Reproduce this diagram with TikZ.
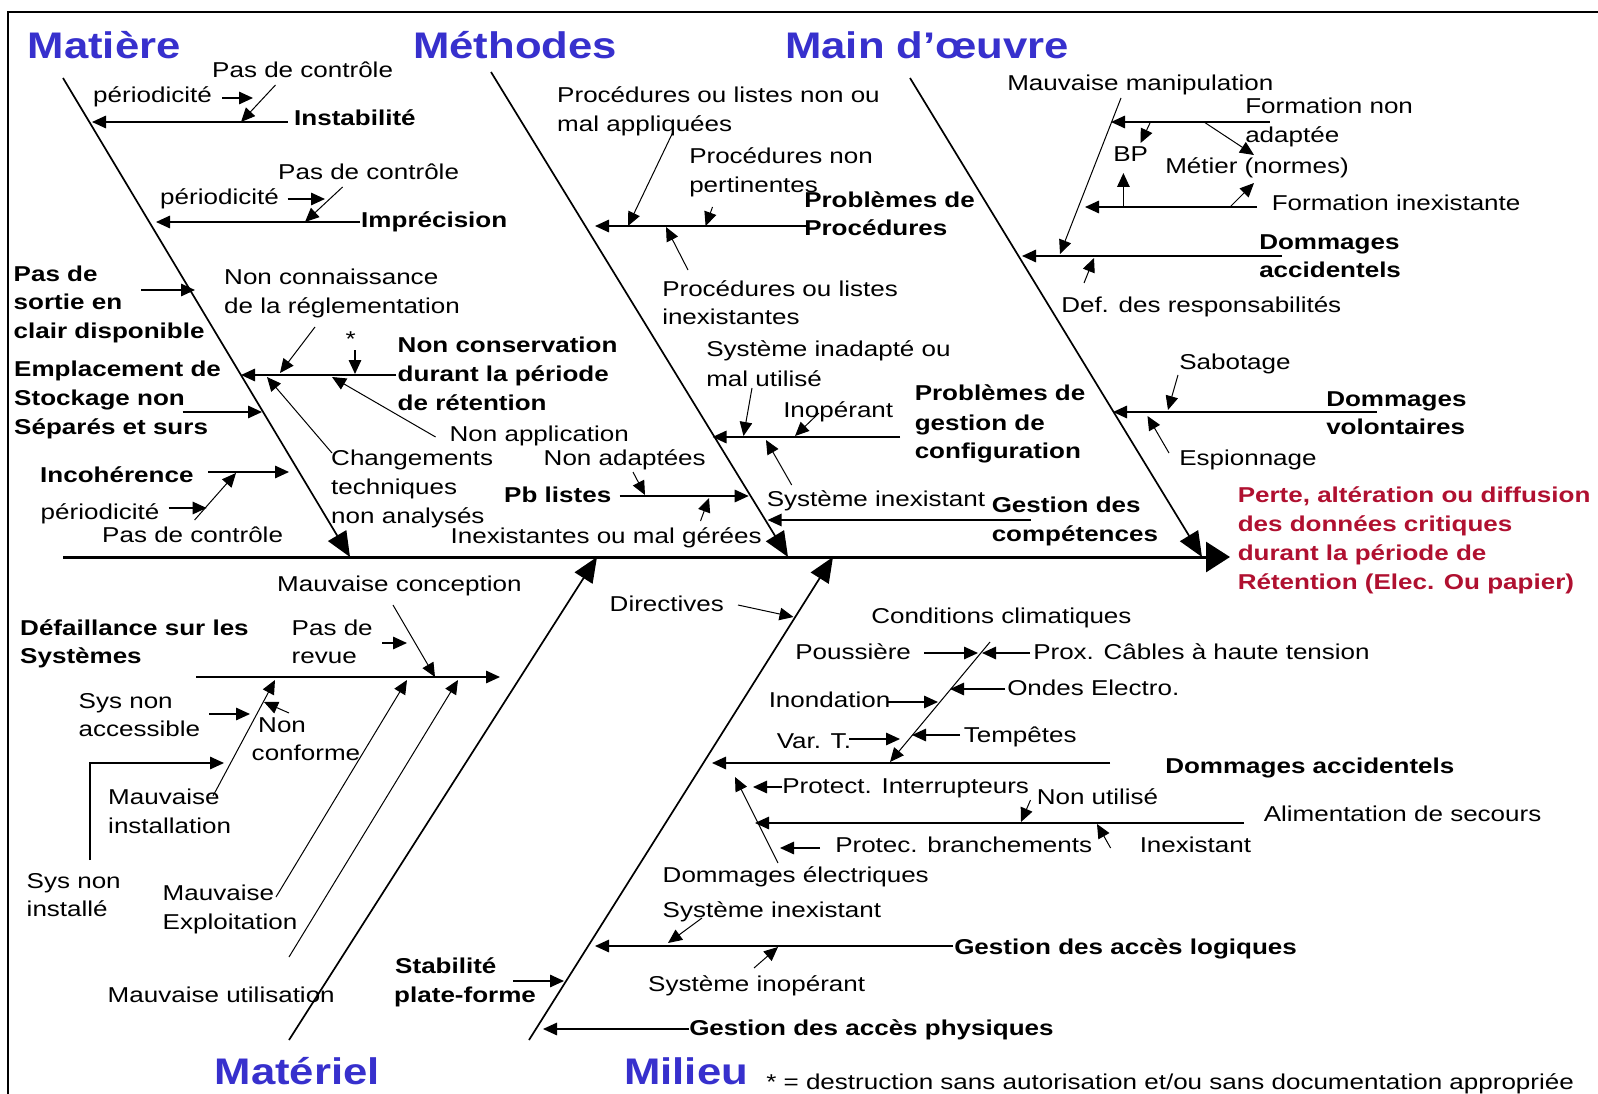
\documentclass[tikz,border=0pt]{standalone}
\usepackage{fontspec}
\setmainfont{Liberation Sans}
\usetikzlibrary{arrows.meta}
\definecolor{ttlblue}{RGB}{55,48,205}
\definecolor{effred}{RGB}{176,16,48}
\newcommand{\frg}{\fontsize{21.5}{26}\selectfont}
\newcommand{\fbd}{\fontsize{21.5}{26}\selectfont\bfseries}
\newcommand{\fttl}{\fontsize{37}{42}\selectfont\bfseries}
\newcommand{\conn}[4]{\coordinate (#1s) at #3;\coordinate (#1e) at #4;\draw[#2] (#1s) -- (#1e);}
\begin{document}
\begin{tikzpicture}[x=1pt,y=-1pt,
  tx/.style={font=\frg, inner sep=0pt, anchor=base west, xscale=1.21},
  bx/.style={tx, font=\fbd},
  rx/.style={bx, text=effred},
  titl/.style={font=\fttl, text=ttlblue, inner sep=0pt, anchor=base west, xscale=1.18},
  ln/.style={line width=1.5pt},
  arr/.style={ln, -{Triangle[length=14pt,width=12.5pt]}},
  thn/.style={line width=1pt, -{Triangle[length=14pt,width=12.5pt]}},
  bone/.style={line width=1.7pt, -{Triangle[length=25pt,width=21pt]}},
  spine/.style={line width=3pt, -{Triangle[length=24pt,width=30pt]}}]
\useasboundingbox (0,0) rectangle (1598,1094);
\fill[white] (0,0) rectangle (1598,1094);
% frame
\coordinate (fr1) at (8,1094); \coordinate (fr2) at (8,12); \coordinate (fr3) at (1598,12);
\draw[line width=2pt] (fr1) -- (fr2) -- (fr3);

% titles
\node[titl] (tmat) at (27.5,58.5) {Matière};
\node[titl] (tmet) at (413,58.5) {Méthodes};
\node[titl] (tmo) at (785,58.5) {Main d’œuvre};
\node[titl] (tmtl) at (214.5,1084) {Matériel};
\node[titl] (tmil) at (624,1084) {Milieu};
\node[tx] (foot) at (766,1089) {* = destruction sans autorisation et/ou sans documentation appropriée};

% spine and bones
\conn{spn}{spine}{(63,557)}{(1230,557)}
\conn{bA}{bone}{(63,78)}{(350,557)}
\conn{bB}{bone}{(491,72)}{(788,557)}
\conn{bC}{bone}{(910,78)}{(1202,557)}
\conn{bD}{bone}{(289,1040)}{(597,557)}
\conn{bE}{bone}{(529,1040)}{(833,557)}

% ---------------- Matiere
\node[tx] (m1a) at (212,78) {Pas de contrôle};
\node[tx] (m1b) at (93,103) {périodicité};
\node[bx] (m1c) at (294,126) {Instabilité};
\node[tx] (m2a) at (278,180) {Pas de contrôle};
\node[tx] (m2b) at (160,205) {périodicité};
\node[bx] (m2c) at (361,228) {Imprécision};
\node[bx] (m3a) at (13.5,281) {Pas de};
\node[bx] (m3b) at (13.5,309.5) {sortie en};
\node[bx] (m3c) at (13.5,338.5) {clair disponible};
\node[tx] (m4a) at (224,284.5) {Non connaissance};
\node[tx] (m4b) at (224,313.5) {de la réglementation};
\node[tx] (m4c) at (345.5,346) {*};
\node[bx] (m5a) at (397.5,352.5) {Non conservation};
\node[bx] (m5b) at (397.5,381.5) {durant la période};
\node[bx] (m5c) at (397.5,410) {de rétention};
\node[tx] (m6) at (449.4,441) {Non application};
\node[tx] (m7a) at (331,465.5) {Changements};
\node[tx] (m7b) at (331,494.5) {techniques};
\node[tx] (m7c) at (331,523) {non analysés};
\node[bx] (m8a) at (14,376) {Emplacement de};
\node[bx] (m8b) at (14,405.5) {Stockage non};
\node[bx] (m8c) at (14,434.5) {Séparés et surs};
\node[bx] (m9a) at (40,482) {Incohérence};
\node[tx] (m9b) at (40.5,519.5) {périodicité};
\node[tx] (m9c) at (102,542.5) {Pas de contrôle};

\conn{cm1}{arr}{(287.5,122)}{(92,122)}
\conn{cm2}{arr}{(222,98)}{(253,98)}
\conn{cm3}{thn}{(275.5,85)}{(241,122)}
\conn{cm4}{arr}{(360,222)}{(156,222)}
\conn{cm5}{arr}{(287.5,199)}{(325,199)}
\conn{cm6}{thn}{(342.6,187)}{(305,222)}
\conn{cm7}{arr}{(141,290)}{(195,290)}
\conn{cm8}{thn}{(315,327)}{(280,373)}
\conn{cm9}{arr}{(355,350)}{(355,374)}
\conn{cm10}{arr}{(396,375)}{(241,375)}
\conn{cm11}{thn}{(435.6,437)}{(332,377)}
\conn{cm12}{thn}{(332,453)}{(267,377)}
\conn{cm13}{arr}{(182.5,412)}{(262,412)}
\conn{cm14}{arr}{(208,472)}{(289,472)}
\conn{cm15}{arr}{(168.7,508)}{(206.6,508)}
\conn{cm16}{thn}{(194.6,520)}{(236,473)}

% ---------------- Methodes
\node[tx] (e1a) at (557,103) {Procédures ou listes non ou};
\node[tx] (e1b) at (557,132) {mal appliquées};
\node[tx] (e2a) at (689,163.5) {Procédures non};
\node[tx] (e2b) at (689,192.5) {pertinentes};
\node[bx] (e3a) at (804,207.5) {Problèmes de};
\node[bx] (e3b) at (804,235.5) {Procédures};
\node[tx] (e4a) at (662,296) {Procédures ou listes};
\node[tx] (e4b) at (662,324.5) {inexistantes};
\node[tx] (e5a) at (706,356) {Système inadapté ou};
\node[tx] (e5b) at (706,386) {mal utilisé};
\node[tx] (e6) at (783,417.5) {Inopérant};
\node[bx] (e7a) at (914.5,400.5) {Problèmes de};
\node[bx] (e7b) at (914.5,430) {gestion de};
\node[bx] (e7c) at (914.5,458) {configuration};
\node[tx] (e8) at (543.5,465.5) {Non adaptées};
\node[bx] (e9) at (504,502.5) {Pb listes};
\node[tx] (e10) at (766.5,506) {Système inexistant};
\node[bx] (e11a) at (991.5,512.5) {Gestion des};
\node[bx] (e11b) at (991.5,541.5) {compétences};
\node[tx] (e12) at (450.5,543) {Inexistantes ou mal gérées};

\conn{ce1}{arr}{(805.5,226)}{(595,226)}
\conn{ce2}{thn}{(673,132)}{(628,226)}
\conn{ce3}{thn}{(712.5,207)}{(705.6,226)}
\conn{ce4}{thn}{(688,270)}{(666,227)}
\conn{ce5}{arr}{(900,437)}{(712.5,437)}
\conn{ce6}{thn}{(752,388)}{(743.5,436)}
\conn{ce7}{thn}{(819,413)}{(795,436)}
\conn{ce8}{thn}{(791.7,485)}{(766,440)}
\conn{ce9}{arr}{(1031,520)}{(767.6,520)}
\conn{ce10}{arr}{(619.5,496)}{(748.7,496)}
\conn{ce11}{thn}{(633,472)}{(645,495)}
\conn{ce12}{thn}{(700.5,521)}{(709,498)}

% ---------------- Main d'oeuvre
\node[tx] (o1) at (1007,90.5) {Mauvaise manipulation};
\node[tx] (o2a) at (1245,114) {Formation non};
\node[tx] (o2b) at (1245,143) {adaptée};
\node[tx] (o3) at (1113,162) {BP};
\node[tx] (o4) at (1165,174) {Métier (normes)};
\node[tx] (o5) at (1271.5,211) {Formation inexistante};
\node[bx] (o6a) at (1259,249) {Dommages};
\node[bx] (o6b) at (1259,277) {accidentels};
\node[tx] (o7) at (1061,312.5) {Def. des responsabilités};
\node[tx] (o8) at (1179,369) {Sabotage};
\node[bx] (o9a) at (1326,406.5) {Dommages};
\node[bx] (o9b) at (1326,434) {volontaires};
\node[tx] (o10) at (1179,465.5) {Espionnage};
\node[rx] (r1) at (1237.5,502.5) {Perte, altération ou diffusion};
\node[rx] (r2) at (1237.5,531) {des données critiques};
\node[rx] (r3) at (1237.5,560.5) {durant la période de};
\node[rx] (r4) at (1237.5,589) {Rétention (Elec. Ou papier)};

\conn{co1}{arr}{(1282,256)}{(1022,256)}
\conn{co2}{thn}{(1121,98)}{(1060,254)}
\conn{co3}{thn}{(1084,283)}{(1094,258)}
\conn{co4}{arr}{(1270,122)}{(1111,122)}
\conn{co5}{thn}{(1150,123)}{(1140.6,143)}
\conn{co6}{thn}{(1204,122)}{(1254,155)}
\conn{co7}{arr}{(1257,207)}{(1085,207)}
\conn{co8}{arr}{(1123.4,207)}{(1123.4,173)}
\conn{co9}{thn}{(1230,207)}{(1254,183)}
\conn{co10}{arr}{(1376.5,412)}{(1113,412)}
\conn{co11}{thn}{(1178,375)}{(1168,410)}
\conn{co12}{thn}{(1169,453)}{(1147.5,416)}

% ---------------- Materiel
\node[tx] (a1) at (277,591) {Mauvaise conception};
\node[bx] (a2a) at (20,635) {Défaillance sur les};
\node[bx] (a2b) at (20,663) {Systèmes};
\node[tx] (a3a) at (291.5,635) {Pas de};
\node[tx] (a3b) at (291.5,663) {revue};
\node[tx] (a4a) at (78.5,708) {Sys non};
\node[tx] (a4b) at (78.5,736) {accessible};
\node[tx] (a5a) at (258,732) {Non};
\node[tx] (a5b) at (251.5,760) {conforme};
\node[tx] (a6a) at (108,804) {Mauvaise};
\node[tx] (a6b) at (108,833) {installation};
\node[tx] (a7a) at (26.5,888) {Sys non};
\node[tx] (a7b) at (26.5,916.5) {installé};
\node[tx] (a8a) at (162.5,900) {Mauvaise};
\node[tx] (a8b) at (162.5,929) {Exploitation};
\node[tx] (a9) at (107.5,1002) {Mauvaise utilisation};
\node[bx] (a10a) at (395,973) {Stabilité};
\node[bx] (a10b) at (394,1002) {plate-forme};

\conn{ca1}{arr}{(196,677)}{(500,677)}
\conn{ca2}{thn}{(393,605)}{(435,677)}
\conn{ca3}{arr}{(382,643)}{(407,643)}
\conn{ca4}{thn}{(289,713)}{(264,702)}
\conn{ca5}{arr}{(209,714)}{(250,714)}
\coordinate (ca6s) at (90,860); \coordinate (ca6m) at (90,763); \coordinate (ca6e) at (224,763);
\draw[arr] (ca6s) -- (ca6m) -- (ca6e);
\conn{ca7}{thn}{(213,796)}{(275,680)}
\conn{ca8}{thn}{(276,897)}{(407,680)}
\conn{ca9}{thn}{(289,957)}{(458,680)}
\conn{ca10}{arr}{(513,981)}{(564,981)}

% ---------------- Milieu
\node[tx] (i1) at (609.5,611) {Directives};
\node[tx] (i2) at (871,623) {Conditions climatiques};
\node[tx] (i3) at (795,659) {Poussière};
\node[tx] (i4) at (1033,659) {Prox. Câbles à haute tension};
\node[tx] (i5) at (1007,695) {Ondes Electro.};
\node[tx] (i6) at (768.5,707) {Inondation};
\node[tx] (i7) at (776.5,748) {Var. T.};
\node[tx] (i8) at (963.5,742) {Tempêtes};
\node[bx] (i9) at (1165,773) {Dommages accidentels};
\node[tx] (i10) at (782,793) {Protect. Interrupteurs};
\node[tx] (i11) at (1036.5,804) {Non utilisé};
\node[tx] (i12) at (1263.5,821) {Alimentation de secours};
\node[tx] (i13) at (835,852) {Protec. branchements};
\node[tx] (i14) at (1139.5,852) {Inexistant};
\node[tx] (i15) at (662.5,882) {Dommages électriques};
\node[tx] (i16) at (662.5,917) {Système inexistant};
\node[bx] (i17) at (954,954) {Gestion des accès logiques};
\node[tx] (i18) at (648,991) {Système inopérant};
\node[bx] (i19) at (689,1035) {Gestion des accès physiques};

\conn{ci1}{thn}{(738,605)}{(793.5,617)}
\conn{ci2}{arr}{(1110,763)}{(712,763)}
\conn{ci3}{thn}{(990,642)}{(890,762)}
\conn{ci4}{arr}{(924,653)}{(978,653)}
\conn{ci5}{arr}{(1030,653)}{(982,653)}
\conn{ci6}{arr}{(1005,689)}{(950,689)}
\conn{ci7}{arr}{(887,702)}{(938,702)}
\conn{ci8}{arr}{(849,739)}{(900,739)}
\conn{ci9}{arr}{(960,735)}{(912,735)}
\conn{ci10}{arr}{(782,787)}{(753,787)}
\conn{ci11}{thn}{(778,863)}{(735,777)}
\conn{ci12}{arr}{(1244,823)}{(755,823)}
\conn{ci13}{thn}{(1030.5,800)}{(1021,822)}
\conn{ci14}{thn}{(1110.6,848)}{(1097,824)}
\conn{ci15}{arr}{(820,848)}{(780,848)}
\conn{ci16}{arr}{(953,946)}{(595,946)}
\conn{ci17}{thn}{(702,918)}{(668,943)}
\conn{ci18}{thn}{(754,968)}{(778,947)}
\conn{ci19}{arr}{(689,1029)}{(543,1029)}
\end{tikzpicture}
\end{document}
